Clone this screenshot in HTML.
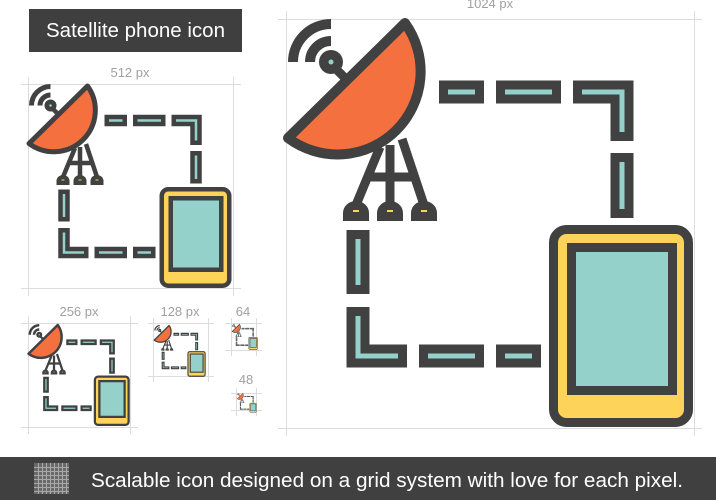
<!DOCTYPE html>
<html><head><meta charset="utf-8"><style>
html,body{margin:0;padding:0;background:#fff;width:716px;height:500px;overflow:hidden;font-family:"Liberation Sans",sans-serif}
.t{position:absolute;color:#a0a0a0;font-size:13px;text-align:center;width:80px}
</style></head><body>
<div class="t" style="left:90px;top:65px">512 px</div>
<div class="t" style="left:39px;top:304px">256 px</div>
<div class="t" style="left:140px;top:304px">128 px</div>
<div class="t" style="left:203px;top:304px">64</div>
<div class="t" style="left:206px;top:372px">48</div>
<div class="t" style="left:450px;top:-4px">1024 px</div>
<svg width="716" height="500" style="position:absolute;left:0;top:0">
<defs>
<g id="ic">
 <g fill="none" stroke="#414141" stroke-width="23" stroke-linejoin="miter">
  <path d="M153,73H198M210,73H275M287,73H336V122M336,134V199M72,211V275M72,288V337H121M133,337H198M210,337H255"/>
 </g>
 <g fill="none" stroke="#94d1cb" stroke-width="5">
  <path d="M162,73H189M219,73H266M296,73H336V113M336,143V190M72,220V266M72,297V337H112M142,337H189M219,337H246"/>
 </g>
 <g stroke="#414141" stroke-width="9" fill="none">
  <path d="M94,128L70,186M104,126V186M116,120L138,186M80,158H128"/>
  <path d="M50,50L62,62"/>
  <path d="M24,43A21,21 0 0 1 45,22M7,43A38,38 0 0 1 45,5" stroke-width="10"/>
 </g>
 <circle cx="45" cy="43" r="12" fill="#414141"/>
 <circle cx="45" cy="43" r="2.5" fill="#94d1cb"/>
 <path d="M119,4L2,119A83,83 0 0 0 119,4Z" fill="#f4713f" stroke="#414141" stroke-width="10" stroke-linejoin="round"/>
 <g fill="#414141">
  <path d="M57,202V194A13,12 0 0 1 83,194V202Z"/>
  <path d="M91,202V194A13,12 0 0 1 117,194V202Z"/>
  <path d="M125,202V194A13,12 0 0 1 151,194V202Z"/>
 </g>
 <g fill="#fdd35a"><rect x="67" y="191" width="6" height="2"/><rect x="101" y="191" width="6" height="2"/><rect x="135" y="191" width="6" height="2"/></g>
 <rect x="267.5" y="210.5" width="135" height="193" rx="13" fill="#fdd35a" stroke="#414141" stroke-width="9"/>
 <rect x="285.5" y="228.5" width="101" height="143" fill="#94d1cb" stroke="#414141" stroke-width="9"/>
</g>
</defs>
<rect x="29" y="9" width="213" height="43" fill="#3f3f3f"/>
<text x="46" y="37" fill="#fff" font-family="Liberation Sans, sans-serif" font-size="20" textLength="179" lengthAdjust="spacingAndGlyphs">Satellite phone icon</text>
<g stroke="#dcdcdc" stroke-width="1" fill="none">
 <path d="M278,19.5H702M278,428.5H702M286.5,11V436M694.5,11V436"/>
 <path d="M21,84.5H241M21,288.5H241M28.5,77V296M233.5,77V296"/>
 <path d="M21,323.5H138M21,427.5H138M28.5,316V434M130.5,316V434"/>
 <path d="M148,323.5H214M148,376.5H214M153.5,318V382M208.5,318V382"/>
 <path d="M225,323.5H262M225,350.5H262M231.5,318V356M256.5,318V356"/>
 <path d="M231,393.5H262M231,410.5H262M236.5,388V416M256.5,388V416"/>
</g>
<use href="#ic" transform="translate(286,19)"/>
<use href="#ic" transform="translate(28,84) scale(0.5)"/>
<use href="#ic" transform="translate(28,324) scale(0.25)"/>
<use href="#ic" transform="translate(154,325) scale(0.127)"/>
<use href="#ic" transform="translate(232,324) scale(0.063)"/>
<use href="#ic" transform="translate(237,393) scale(0.048)"/>
<rect x="0" y="457" width="716" height="43" fill="#404040"/>
<g>
 <rect x="34" y="463" width="35" height="31" fill="#6a6a6a"/>
 <g stroke="#a8a8a8" stroke-width="1">
  <path d="M34,467.5H69M34,471.5H69M34,475.5H69M34,479.5H69M34,483.5H69M34,487.5H69M34,491.5H69"/>
  <path d="M38.5,463V494M42.5,463V494M46.5,463V494M50.5,463V494M54.5,463V494M58.5,463V494M62.5,463V494M66.5,463V494"/>
 </g>
</g>
<text x="91" y="487" fill="#fff" font-family="Liberation Sans, sans-serif" font-size="20" textLength="592" lengthAdjust="spacingAndGlyphs">Scalable icon designed on a grid system with love for each pixel.</text>
</svg>
</body></html>
